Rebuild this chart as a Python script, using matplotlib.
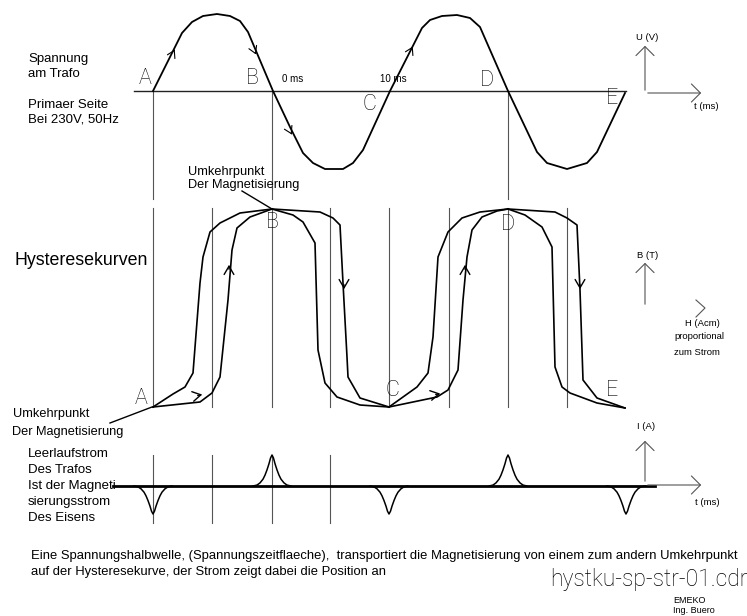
import matplotlib
matplotlib.use("Agg")
import matplotlib.pyplot as plt

# Diagram drawn in a pixel-like coordinate system (x: 0..747, y: 0..616 downward)

# voltage half waves
sine_x = [153, 182, 192, 203, 217, 230, 240, 248, 273, 290, 303, 313, 325, 343, 353, 363,
          390, 422, 430, 442, 457, 470, 480, 508, 537, 547, 567, 587, 597, 625]
sine_y = [91, 33, 22, 16, 14, 16, 21, 32, 91, 127, 153, 163, 169, 169, 163, 150,
          91, 28, 20, 16, 15, 18, 27, 91, 152, 163, 169, 163, 152, 93]

# hysteresis loop 1 (A -> B -> C)
l1_left_outer = [(153, 407), (173, 394), (185, 387), (193, 373), (200, 283), (203, 257),
                 (210, 232), (220, 223), (240, 213), (272, 209)]
l1_left_inner = [(153, 407), (200, 402), (212, 393), (220, 377), (228, 300), (232, 250),
                 (237, 228), (250, 217), (272, 209)]
l1_right_inner = [(272, 209), (293, 215), (303, 222), (315, 243), (318, 350), (325, 383),
                  (337, 397), (360, 405), (389, 407)]
l1_right_outer = [(272, 209), (320, 212), (333, 218), (340, 225), (343, 283), (347, 357),
                  (348, 377), (360, 398), (389, 407)]
# hysteresis loop 2 (C -> D -> E)
l2_left_outer = [(389, 407), (417, 387), (428, 373), (433, 337), (438, 257), (448, 232),
                 (462, 218), (480, 212), (508, 209)]
l2_left_inner = [(389, 407), (437, 397), (448, 390), (458, 370), (463, 300), (467, 257),
                 (472, 230), (482, 217), (497, 211), (508, 209)]
l2_right_inner = [(508, 209), (525, 215), (542, 227), (552, 247), (555, 367), (562, 387),
                  (570, 393), (597, 403), (625, 408)]
l2_right_outer = [(508, 209), (555, 212), (567, 218), (577, 225), (580, 290), (583, 380),
                  (597, 398), (625, 408)]
loops = [l1_left_outer, l1_left_inner, l1_right_inner, l1_right_outer,
         l2_left_outer, l2_left_inner, l2_right_inner, l2_right_outer]

# magnetising current: spike positions, direction, height and common profile
spike_x = [153, 272, 389, 508, 626]
spike_h = [-28, 31, -28, 31, -28]
profile_dx = [-19, -15, -12, -9, -7, -5, -3, -1.5, 0, 1.5, 3, 5, 7, 9, 12, 15, 19]
profile_f = [0, 0.03, 0.1, 0.22, 0.35, 0.52, 0.72, 0.9, 1, 0.9, 0.72, 0.52, 0.35, 0.22, 0.1, 0.03, 0]
baseline_y = 486

# vertical guide lines
guides_top = [153, 272, 508]
guides_mid = [153, 212, 272, 330, 389, 449, 508, 567]
guides_bot = [153, 212, 272, 330]

fig = plt.figure(figsize=(7.47, 6.16), dpi=100)
ax = fig.add_axes([0, 0, 1, 1])
ax.set_xlim(0, 747)
ax.set_ylim(616, 0)
ax.axis("off")

grey = "#555555"
txt = dict(family="Liberation Sans", color="black", va="baseline")
big = dict(family="Roboto", fontweight="light", fontsize=15.5, ha="center", va="center",
           color="black")

# guides
for x in guides_top:
    ax.plot([x, x], [91, 199], color=grey, lw=0.8)
for x in guides_mid:
    ax.plot([x, x], [208, 407], color=grey, lw=0.8)
for x in guides_bot:
    ax.plot([x, x], [455, 523], color=grey, lw=0.8)

# voltage panel
ax.plot([134, 626], [91, 91], color="#222222", lw=1.0)
ax.plot(sine_x, sine_y, color="black", lw=1.3)
small_arrow = dict(arrowstyle="->,head_length=0.5,head_width=0.3", color="black", lw=0.8)
for tip, d in [((176, 47), (-3, 6)), ((257, 57), (-3, -7)), ((293, 137), (-3, -6)), ((414, 44), (-3, 6))]:
    ax.annotate("", xy=tip, xytext=(tip[0] + d[0], tip[1] + d[1]), arrowprops=small_arrow)

for s, x, y in [("A", 145, 79), ("B", 252, 79), ("C", 369, 104), ("D", 487, 80), ("E", 612, 99)]:
    ax.text(x, y, s, **big)
ax.text(282, 82, "0 ms", fontsize=7, **txt)
ax.text(380, 82, "10 ms", fontsize=7, **txt)

ax.text(28, 62, "Spannung", fontsize=9.5, **txt)
ax.text(28, 77, "am Trafo", fontsize=9.5, **txt)
ax.text(28, 108, "Primaer Seite", fontsize=9.5, **txt)
ax.text(28, 123, "Bei 230V, 50Hz", fontsize=9.5, **txt)

# hysteresis panel
for pts in loops:
    ax.plot([p[0] for p in pts], [p[1] for p in pts], color="black", lw=1.2)
hyst_arrow = dict(arrowstyle="->,head_length=0.6,head_width=0.35", color="black", lw=1.0)
for tip, d in [((229, 262), (0, 10)), ((465, 262), (0, 10)), ((344, 292), (0, -10)),
               ((580, 292), (0, -10)), ((205, 394), (-10, 2)), ((443, 393), (-10, 2))]:
    ax.annotate("", xy=tip, xytext=(tip[0] + d[0], tip[1] + d[1]), arrowprops=hyst_arrow)

for s, x, y in [("A", 141, 398), ("B", 272, 223), ("C", 392, 391), ("D", 508, 224), ("E", 612, 391)]:
    ax.text(x, y, s, **big)

ax.text(15, 265, "Hysteresekurven", fontsize=12.8, **txt)
ax.text(188, 175, "Umkehrpunkt", fontsize=9.2, **txt)
ax.text(188, 188, "Der Magnetisierung", fontsize=9.2, **txt)
ax.plot([242, 272], [191, 209], color="black", lw=1.0)
ax.text(13, 417, "Umkehrpunkt", fontsize=9.2, **txt)
ax.text(12, 435, "Der Magnetisierung", fontsize=9.2, **txt)
ax.plot([110, 152], [423, 407], color="black", lw=1.0)

# current panel
ax.plot([113, 655], [baseline_y, baseline_y], color="black", lw=2.0)
for cx, h in zip(spike_x, spike_h):
    ax.plot([cx + d for d in profile_dx], [baseline_y - h * f for f in profile_f],
            color="black", lw=1.1)

ax.text(28, 457, "Leerlaufstrom", fontsize=9.5, **txt)
ax.text(28, 473, "Des Trafos", fontsize=9.5, **txt)
ax.text(28, 489, "Ist der Magneti", fontsize=9.5, **txt)
ax.text(28, 505, "sierungsstrom", fontsize=9.5, **txt)
ax.text(28, 521, "Des Eisens", fontsize=9.5, **txt)

# axis symbols on the right
axis_arrow = dict(arrowstyle="->,head_length=0.65,head_width=0.65", color=grey, lw=0.8)
ax.annotate("", xy=(645, 43), xytext=(645, 93), arrowprops=axis_arrow)
ax.annotate("", xy=(704, 93), xytext=(645, 93), arrowprops=axis_arrow)
ax.text(636, 40, "U (V)", fontsize=6.8, **txt)
ax.text(694, 109, "t (ms)", fontsize=6.8, **txt)

ax.annotate("", xy=(645, 260), xytext=(645, 307), arrowprops=axis_arrow)
ax.text(637, 258, "B (T)", fontsize=6.8, **txt)
chevron_x = [696, 705, 696]
chevron_y = [300, 308, 317]
ax.plot(chevron_x, chevron_y, color=grey, lw=0.8)
ax.text(685, 326, "H (Acm)", fontsize=6.8, **txt)
ax.text(674, 339, "proportional", fontsize=6.8, **txt)
ax.text(674, 355, "zum Strom", fontsize=6.8, **txt)

ax.annotate("", xy=(645, 438), xytext=(645, 484), arrowprops=axis_arrow)
ax.annotate("", xy=(704, 485), xytext=(645, 485), arrowprops=axis_arrow)
ax.text(637, 429, "I (A)", fontsize=6.8, **txt)
ax.text(695, 505, "t (ms)", fontsize=6.8, **txt)

# footer
ax.text(31, 559, "Eine Spannungshalbwelle, (Spannungszeitflaeche),  transportiert die "
        "Magnetisierung von einem zum andern Umkehrpunkt", fontsize=9.4, **txt)
ax.text(31, 575, "auf der Hysteresekurve, der Strom zeigt dabei die Position an",
        fontsize=9.4, **txt)
ax.text(550, 586, "hystku-sp-str-01.cdr", family="Roboto", fontweight="light",
        fontsize=16.5, va="baseline", color="black")
ax.text(673, 603, "EMEKO", fontsize=6.5, **txt)
ax.text(673, 613, "Ing. Buero", fontsize=6.5, **txt)

fig.savefig("out.png", dpi=100)
